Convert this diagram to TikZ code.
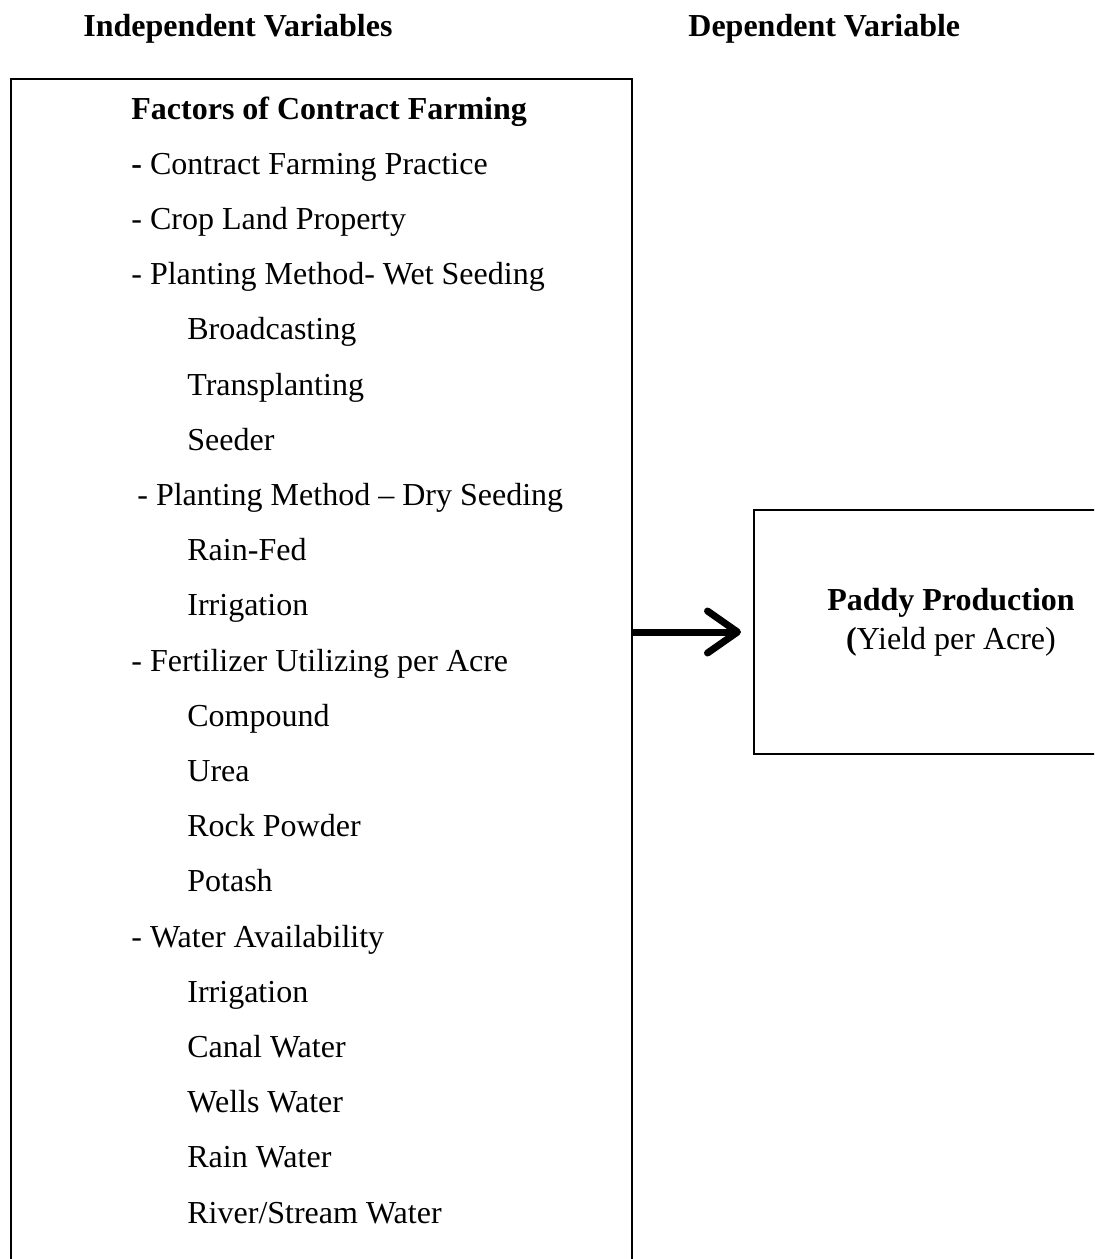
\documentclass[tikz,border=0pt]{standalone}
\usepackage{fontspec}
\setmainfont{Liberation Serif}
\usetikzlibrary{arrows.meta}

\begin{document}
\begin{tikzpicture}[x=0.5pt,y=-0.5pt]
\tikzstyle{every node}+=[inner sep=0pt,font=\fontsize{16}{19}\selectfont]
\tikzstyle{item}=[anchor=base west]
\tikzstyle{frame}=[draw=black,line width=0.8pt,anchor=north west]
\useasboundingbox (0,0) rectangle (1094,1259);
\clip (0,0) rectangle (1094,1259);
% headings
\node [item] (indep) at (83,36) {\textbf{Independent Variables}};
\node [item] (dep) at (688,36) {\textbf{Dependent Variable}};
% boxes
\node [frame,minimum width=310.5pt,minimum height=601pt] (leftbox) at (10,78) {};
\node [frame,minimum width=180pt,minimum height=122pt] (rightbox) at (753,509) {};
% list of factors
\node [item] (fac) at (131,119) {\textbf{Factors of Contract Farming}};
\node [item] (cfp) at (131,174.2) {\textbf{-} Contract Farming Practice};
\node [item] (clp) at (131,229.4) {- Crop Land Property};
\node [item] (wet) at (131,284.6) {- Planting Method- Wet Seeding};
\node [item] (broad) at (187,339.8) {Broadcasting};
\node [item] (trans) at (187,395) {Transplanting};
\node [item] (seed) at (187,450.2) {Seeder};
\node [item] (dry) at (137,505.4) {- Planting Method -- Dry Seeding};
\node [item] (rain) at (187,560.6) {Rain-Fed};
\node [item] (irr) at (187,615.8) {Irrigation};
\node [item] (fert) at (131,671) {- Fertilizer Utilizing per Acre};
\node [item] (comp) at (187,726.2) {Compound};
\node [item] (urea) at (187,781.4) {Urea};
\node [item] (rock) at (187,836.6) {Rock Powder};
\node [item] (pot) at (187,891.8) {Potash};
\node [item] (water) at (131,947) {- Water Availability};
\node [item] (irrw) at (187,1002.2) {Irrigation};
\node [item] (canal) at (187,1057.4) {Canal Water};
\node [item] (wells) at (187,1112.6) {Wells Water};
\node [item] (rainw) at (187,1167.8) {Rain Water};
\node [item] (river) at (187,1223) {River/Stream Water};
% dependent side
\node [anchor=base] (paddy) at (951,610) {\textbf{Paddy Production}};
\node [anchor=base] (yield) at (951,649) {\textbf{(}Yield per Acre)};
% arrow
\coordinate (arrowy) at (0,632);
\draw [line width=3.5pt,shorten >=6pt,-{Straight Barb[length=15pt,width=21pt,line cap=round,line join=round]}] (leftbox.east |- arrowy) -- (rightbox.west |- arrowy);
\end{tikzpicture}
\end{document}
